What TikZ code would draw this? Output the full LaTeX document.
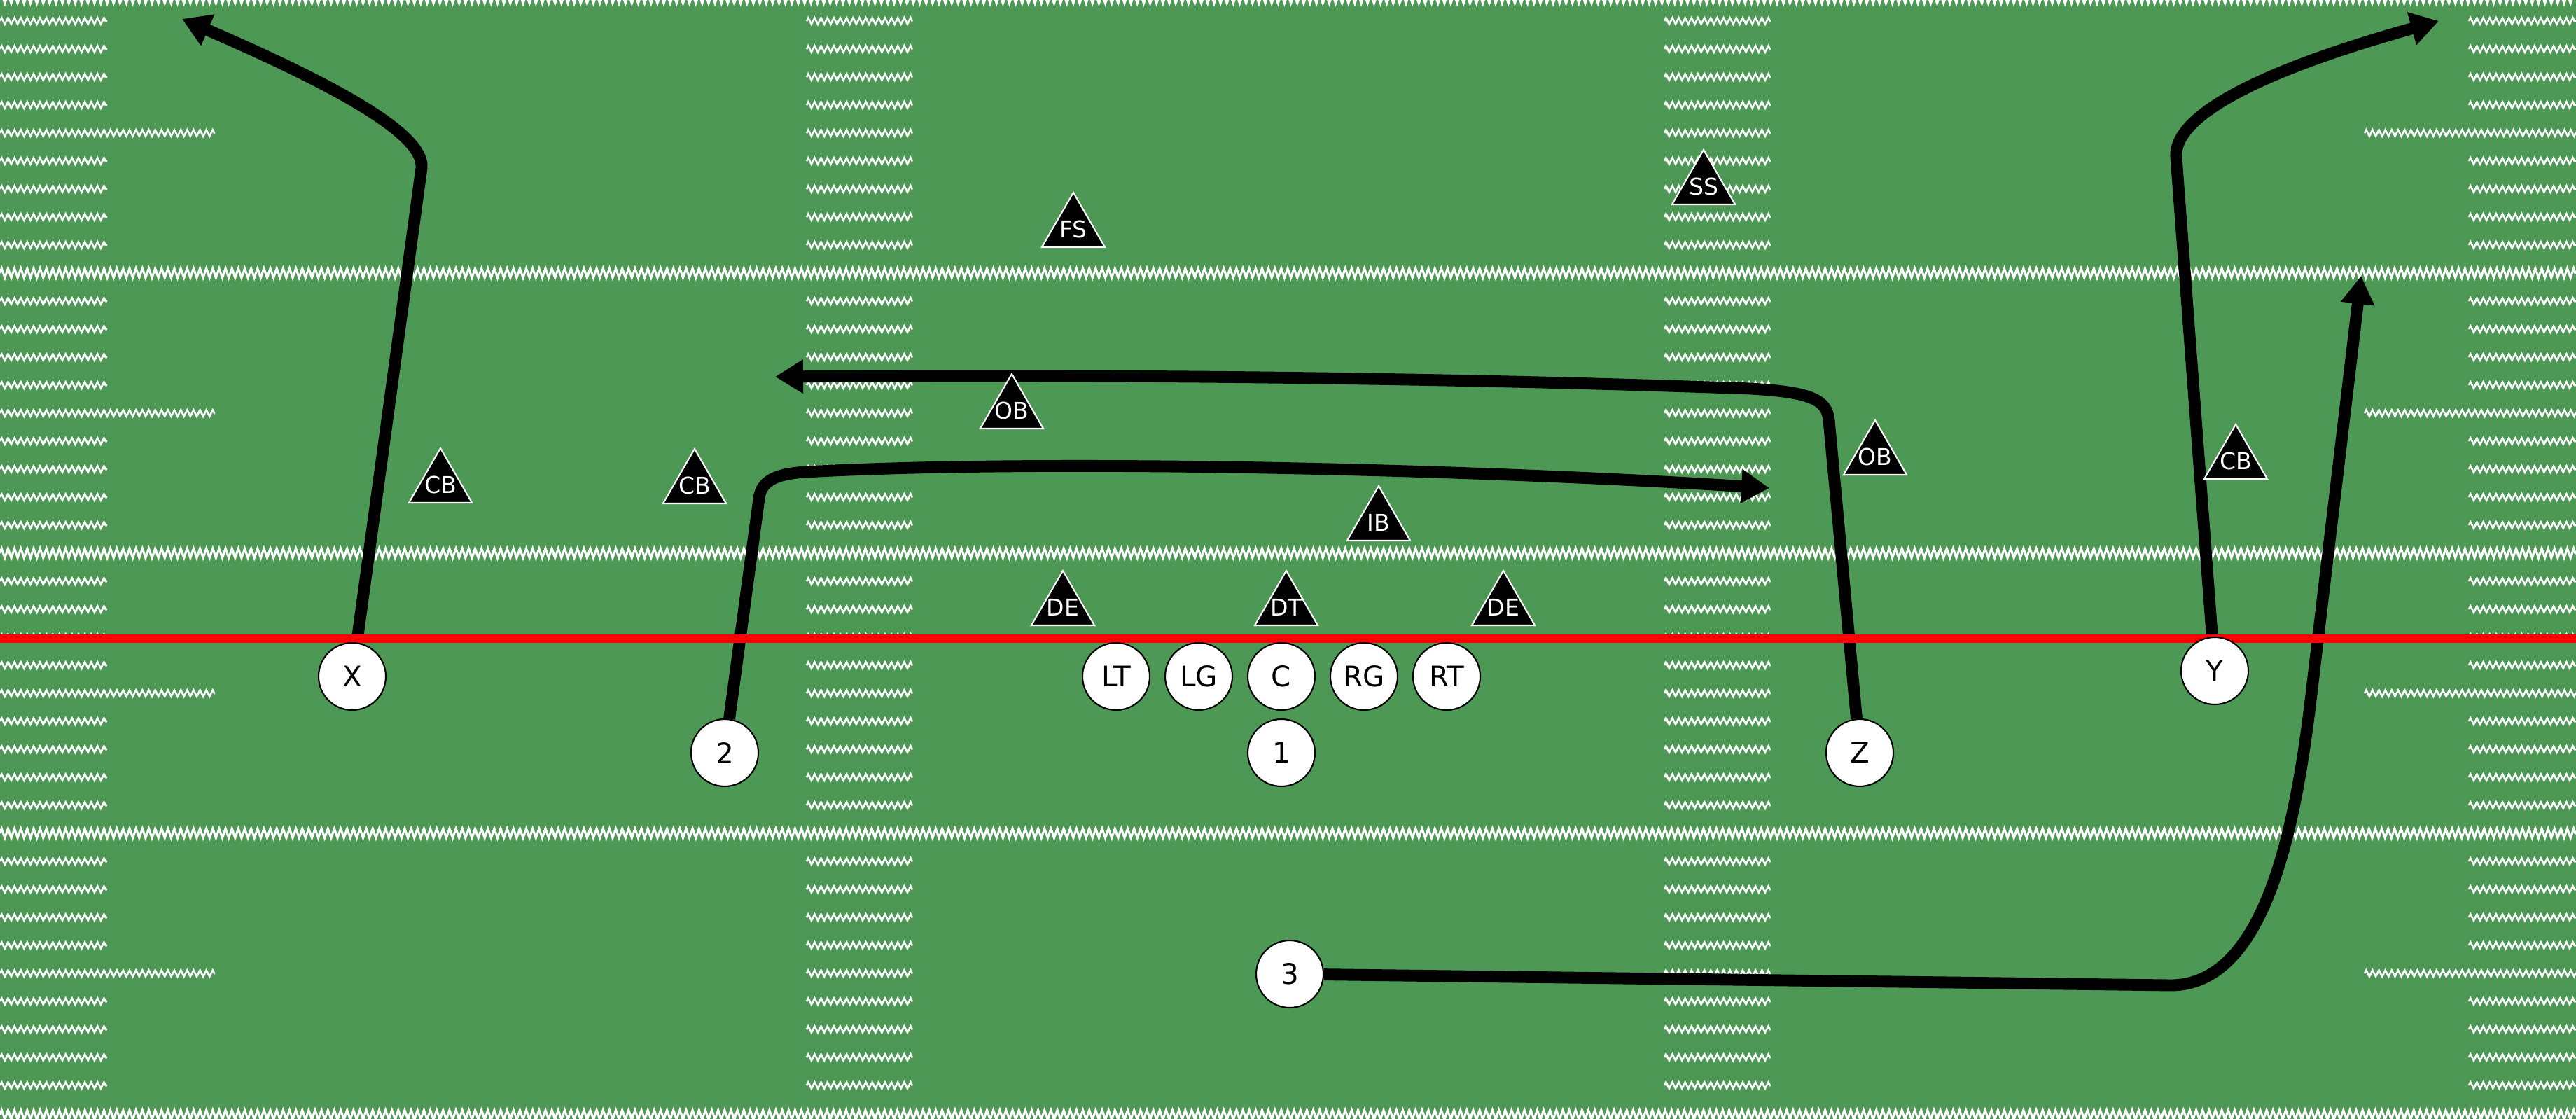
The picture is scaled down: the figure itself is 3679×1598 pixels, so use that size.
\documentclass[tikz,border=0pt]{standalone}
\usepackage{fontspec}
\setmainfont{DejaVu Sans}
\usetikzlibrary{arrows.meta,shapes.geometric,decorations.pathmorphing}
\definecolor{turf}{RGB}{76,152,84}
\pgfdeclarelayer{field}
\pgfdeclarelayer{routes}
\pgfsetlayers{field,routes,main}
\begin{document}
\begin{tikzpicture}[x=0.1mm, y=-0.1mm,
    oplayer/.style={circle, draw=black, fill=white, line width=0.6pt, minimum size=0.96cm, inner sep=0pt, font=\fontsize{11.5}{13}\selectfont},
    dplayer/.style={regular polygon, regular polygon sides=3, draw=white, fill=black, text=white, line width=0.6pt, minimum size=1.04cm, inner sep=-4pt, font=\fontsize{9.4}{11}\selectfont},
    route/.style={line width=4.8pt, -{Triangle[length=0.4cm, width=0.46cm]}},
    hashmark/.style={white, line width=0.75pt, decorate, decoration={zigzag, amplitude=1.3pt, segment length=2.6pt}},
    yardline/.style={white, line width=0.9pt, decorate, decoration={zigzag, amplitude=1.9pt, segment length=2.6pt}}]
\useasboundingbox (0,0) rectangle (3679,1598);
\begin{pgfonlayer}{field}
\fill[turf] (0,0) rectangle (3679,1598);
\foreach \yy in {-2,390,790,1190,1592}
  \draw[yardline] (0,\yy) -- (3679,\yy);
\foreach \j in {0,...,3}{
  \foreach \k in {1,...,9}{
    \pgfmathsetmacro\yy{-10+400*\j+40*\k}
    \ifnum\k=5
      \draw[hashmark] (0,\yy) -- (307,\yy);
      \draw[hashmark] (3377,\yy) -- (3679,\yy);
    \else
      \draw[hashmark] (0,\yy) -- (153,\yy);
      \draw[hashmark] (3526,\yy) -- (3679,\yy);
    \fi
    \draw[hashmark] (1152,\yy) -- (1303,\yy);
    \draw[hashmark] (2377,\yy) -- (2529,\yy);
  }
}
\end{pgfonlayer}
% line of scrimmage
\draw[red, line width=3.4pt] (0,912) -- (3679,912);
% offense
\node[oplayer] (wrx) at (503,966) {X};
\node[oplayer] (lt) at (1594,966) {LT};
\node[oplayer] (lg) at (1712,966) {LG};
\node[oplayer] (ctr) at (1830,966) {C};
\node[oplayer] (rg) at (1948,966) {RG};
\node[oplayer] (rt) at (2066,966) {RT};
\node[oplayer] (qb) at (1830,1075) {1};
\node[oplayer] (rb2) at (1035,1075) {2};
\node[oplayer] (wrz) at (2656,1075) {Z};
\node[oplayer] (tey) at (3163,958) {Y};
\node[oplayer] (rb3) at (1842,1391) {3};
% defense
\node[dplayer] (fs) at (1533,327) {FS};
\node[dplayer] (ss) at (2433,266) {SS};
\node[dplayer] (obl) at (1445,586) {OB};
\node[dplayer] (obr) at (2678,652) {OB};
\node[dplayer] (cbl) at (629,692) {CB};
\node[dplayer] (cbm) at (992,693) {CB};
\node[dplayer] (cbr) at (3193,658) {CB};
\node[dplayer] (ib) at (1969,746) {IB};
\node[dplayer] (del) at (1518,867) {DE};
\node[dplayer] (dt) at (1837,867) {DT};
\node[dplayer] (der) at (2147,867) {DE};
% route ends
\coordinate (xtip) at (260,27);
\coordinate (ytip) at (3483,30);
\coordinate (ztip) at (1107,538);
\coordinate (tip2) at (2527,697);
\coordinate (tip3) at (3372,394);
\begin{pgfonlayer}{routes}
\draw[route] (wrx) -- (602,240) .. controls (607,190) and (470,118) .. (xtip);
\draw[route] (tey) -- (3108,225) .. controls (3103,160) and (3250,95) .. (ytip);
\draw[route] (wrz) -- (2612,600) .. controls (2609,570) and (2585,560) .. (2500,555)
  .. controls (2000,537) and (1500,535) .. (ztip);
\draw[route] (rb2) -- (1084,712) .. controls (1087,688) and (1105,677) .. (1150,674)
  .. controls (1500,655) and (2100,670) .. (tip2);
\draw[route] (rb3) -- (3100,1407) .. controls (3230,1407) and (3276,1200) .. (3300,1000) -- (tip3);
\end{pgfonlayer}
\end{tikzpicture}
\end{document}
